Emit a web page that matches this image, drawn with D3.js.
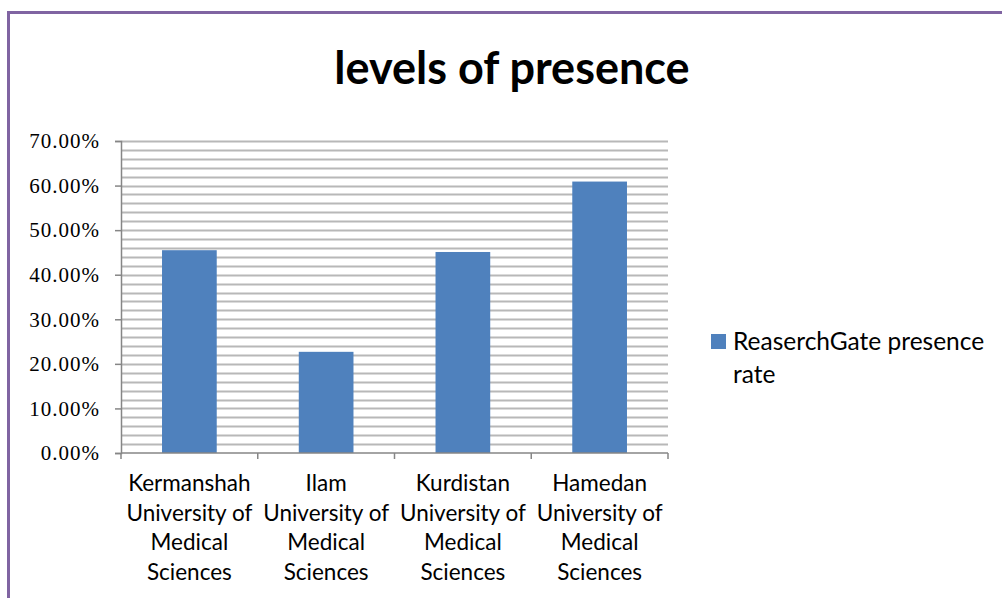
<!DOCTYPE html>
<html lang="en">
<head>
    <meta charset="UTF-8">
    <title>levels of presence</title>
    <script src="https://d3js.org/d3.v7.min.js"></script>
    <style>
        body { margin: 0; background: #fff; }
        svg { display: block; }
        .y-axis text { font-family: "Liberation Serif", serif; font-size: 21px; letter-spacing: 1px; fill: #000; }
        .cat-label { font-family: Lato, "Open Sans", sans-serif; font-size: 22.5px; fill: #000; }
        .legend-label { font-family: Lato, "Open Sans", sans-serif; font-size: 24.5px; fill: #000; }
    </style>
</head>
<body>
    <svg width="1002" height="598"></svg>
    <script>
        // chart values
        let categories = [
            ["Kermanshah", "University of", "Medical", "Sciences"],
            ["Ilam", "University of", "Medical", "Sciences"],
            ["Kurdistan", "University of", "Medical", "Sciences"],
            ["Hamedan", "University of", "Medical", "Sciences"]
        ];
        let rates = [0.455, 0.227, 0.451, 0.609];
        let yTicks = [0, 0.1, 0.2, 0.3, 0.4, 0.5, 0.6, 0.7];
        let seriesName = ["ReaserchGate presence", "rate"];

        let width = 1002, height = 598;
        let margin = { top: 141, bottom: 145, left: 121, right: 334 };

        let svg = d3.select("svg");

        // purple frame
        svg.append("rect")
            .attr("x", 8.5).attr("y", 12.5)
            .attr("width", 1100).attr("height", 700)
            .attr("fill", "none")
            .attr("stroke", "#8064a2")
            .attr("stroke-width", 3);

        // title
        svg.append("text")
            .attr("x", 512).attr("y", 84)
            .attr("text-anchor", "middle")
            .style("font-family", "Lato, 'Open Sans', sans-serif")
            .style("font-weight", "bold")
            .style("font-size", "45px")
            .text("levels of presence");

        let names = categories.map(c => c[0]);

        let xscale = d3.scaleBand()
            .domain(names)
            .range([margin.left, width - margin.right])
            .paddingInner(0.6)
            .paddingOuter(0.3);

        let yscale = d3.scaleLinear()
            .domain([0, 0.7])
            .range([height - margin.bottom, margin.top]);

        // minor gridlines every 2%
        let grid = d3.range(0, 36).map(i => i * 0.02).filter(v => v > 0.001 && v <= 0.7001);
        svg.append("g")
            .selectAll("line")
            .data(grid)
            .join("line")
            .attr("x1", margin.left)
            .attr("x2", width - margin.right)
            .attr("y1", d => Math.round(yscale(d)) + 0.5)
            .attr("y2", d => Math.round(yscale(d)) + 0.5)
            .attr("stroke", "#b8b8b8")
            .attr("stroke-width", 2);

        // bars
        svg.append("g")
            .selectAll("rect")
            .data(rates)
            .join("rect")
            .attr("x", (d, i) => xscale(names[i]))
            .attr("y", d => yscale(d))
            .attr("width", xscale.bandwidth())
            .attr("height", d => yscale(0) - yscale(d))
            .attr("fill", "#4f81bd");

        // y axis
        let yAxis = svg.append("g")
            .attr("class", "y-axis")
            .attr("transform", `translate(${margin.left},0)`)
            .call(d3.axisLeft(yscale).tickValues(yTicks).tickFormat(d3.format(".2%")).tickSize(6).tickPadding(15));
        yAxis.selectAll("path, line").attr("stroke", "#868686").attr("stroke-width", 1.5);

        // x axis with ticks at category boundaries
        let x0 = margin.left, x1 = width - margin.right;
        let step = (x1 - x0) / names.length;
        let xAxis = svg.append("g");
        xAxis.append("line")
            .attr("x1", x0).attr("x2", x1)
            .attr("y1", yscale(0)).attr("y2", yscale(0))
            .attr("stroke", "#868686").attr("stroke-width", 1.5);
        xAxis.selectAll(".tick")
            .data(d3.range(names.length + 1))
            .join("line")
            .attr("x1", d => x0 + d * step)
            .attr("x2", d => x0 + d * step)
            .attr("y1", yscale(0))
            .attr("y2", yscale(0) + 6)
            .attr("stroke", "#868686").attr("stroke-width", 1.5);

        // category labels
        categories.forEach(function (lines, i) {
            let cx = xscale(names[i]) + xscale.bandwidth() / 2;
            let t = svg.append("text")
                .attr("class", "cat-label")
                .attr("text-anchor", "middle")
                .attr("x", cx)
                .attr("y", 491);
            lines.forEach(function (line, j) {
                t.append("tspan").attr("x", cx).attr("dy", j === 0 ? 0 : 29.7).text(line);
            });
        });

        // legend
        svg.append("rect")
            .attr("x", 711).attr("y", 334)
            .attr("width", 15).attr("height", 15)
            .attr("fill", "#4f81bd");
        let lg = svg.append("text")
            .attr("class", "legend-label")
            .attr("x", 733).attr("y", 350);
        seriesName.forEach(function (line, j) {
            lg.append("tspan").attr("x", 733).attr("dy", j === 0 ? 0 : 33).text(line);
        });
    </script>
</body>
</html>
